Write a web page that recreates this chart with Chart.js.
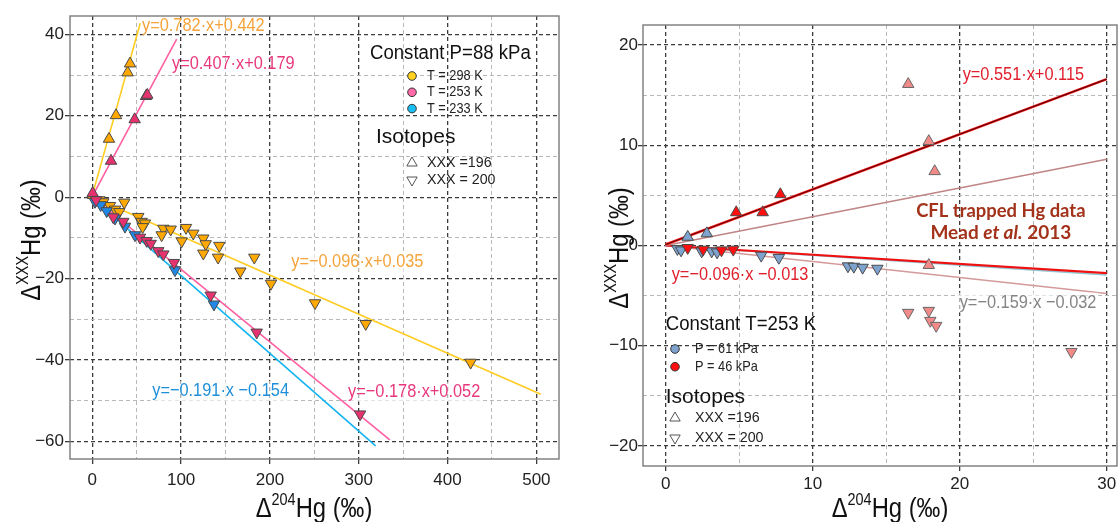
<!DOCTYPE html>
<html>
<head>
<meta charset="utf-8">
<script src="https://cdn.jsdelivr.net/npm/chart.js@4"></script>
<style>
  html, body { margin: 0; padding: 0; background: #fff; }
  #wrap { position: relative; width: 1118px; height: 522px; overflow: hidden; }
  #left { position: absolute; left: 0; top: 0; width: 570px; height: 522px; }
  #right { position: absolute; left: 575px; top: 0; width: 543px; height: 522px; }
</style>
</head>
<body>
<div id="wrap">
  <div id="left"><canvas id="c1"></canvas></div>
  <div id="right"><canvas id="c2"></canvas></div>
</div>
<script>
// ---- left panel: constant P = 88 kPa ----
const leftXMajor = [0, 100, 200, 300, 400, 500];
const leftXMinor = [50, 150, 250, 350, 450];
const leftYMajor = [-60, -40, -20, 0, 20, 40];
const leftYMinor = [-50, -30, -10, 10, 30];

const k298Up = [[1, 0.5], [18.8, 14.3], [26.7, 20.1], [39.8, 30.6], [42.5, 32.8]];
const k298Down = [[7.9, -0.7], [12.4, -1.2], [19.9, -2.1], [25.6, -3.0], [30.4, -3.6], [36, -1.3],
  [51.8, -4.8], [55.6, -6.0], [59.3, -6.4], [56.7, -7.3], [80, -7.7], [88.3, -7.9], [78.1, -9.3],
  [105.5, -7.5], [113.7, -8.9], [100.7, -10.8], [125, -10.1], [127.7, -11.5], [143, -11.9],
  [125, -13.8], [141.6, -14.8], [182.4, -14.8], [166.7, -18.2], [201.2, -21.2], [250.8, -26.0],
  [307.9, -31.1], [426, -40.6]];
const k253Up = [[0.4, 1.0], [21.1, 8.9], [47.7, 19.1], [60.5, 24.8], [61.9, 25.1]];
const k253Down = [[4.2, -0.7], [23.6, -4.9], [34.9, -6.0], [53.7, -9.9], [61.3, -10.7], [65.8, -11.4],
  [74.3, -13.2], [80, -14.0], [92, -16.1], [133.3, -24.1], [185.1, -33.2], [301.5, -53.3]];
const k233Down = [[3, -1.1], [9.4, -1.9], [16.2, -3.4], [25.6, -5.2], [36.8, -7.2], [48.1, -9.3],
  [93.1, -17.9], [137, -26.3]];

// fit lines, end points
const fit298Up = [[0, 0.44], [54, 42.7]];
const fit253Up = [[0, 0.18], [95, 38.8]];
const fit298Down = [[0, 0.04], [505, -48.4]];
const fit253Down = [[0, 0.05], [335, -59.6]];
const fit233Down = [[0, -0.15], [319, -61.1]];

// ---- right panel: constant T = 253 K ----
const rightXMajor = [0, 10, 20, 30];
const rightXMinor = [5, 15, 25];
const rightYMajor = [-20, -10, 0, 10, 20];
const rightYMinor = [-15, -5, 5, 15];

const p61Up = [[1.5, 0.85], [2.8, 1.2]];
const p61Down = [[0.8, -0.33], [1.05, -0.47], [2.45, -0.57], [3.13, -0.57], [3.5, -0.67], [6.5, -1.0],
  [7.7, -1.22], [12.4, -2.06], [12.8, -2.1], [13.4, -2.2], [14.4, -2.3]];
const p46Up = [[4.8, 3.3], [6.6, 3.3], [7.8, 5.1]];
const p46Down = [[1.5, -0.23], [2.55, -0.4], [3.8, -0.47], [4.6, -0.4]];
const meadUp = [[16.5, 16.1], [17.9, 10.4], [18.3, 7.4], [17.9, -1.96]];
const meadDown = [[16.5, -6.7], [17.9, -6.5], [18.0, -7.5], [18.4, -8.0], [27.6, -10.6]];

const fit46Up = [[0, 0.1], [30, 16.6]];
const fitMeadUp = [[0, 0], [30, 8.6]];
const fit46Down = [[0, 0], [30, -2.75]];
const fit61Down = [[0, 0], [30, -2.95]];
const fitMeadDown = [[0, 0], [30, -4.8]];

const SANS = "'Liberation Sans', Arial, sans-serif";
const MAJOR = '#3c3c3c';
const MINOR = '#b8b8b8';

const pts = arr => arr.map(([x, y]) => ({ x, y }));

function marks(data, fill, down, border) {
  return {
    data: pts(data), showLine: false, pointStyle: 'triangle', pointRotation: down ? 180 : 0,
    pointRadius: 6.6, pointBackgroundColor: fill, pointBorderColor: border || '#4a4a4a',
    pointBorderWidth: 1, order: 0
  };
}
function fit(data, color, width) {
  return { data: pts(data), showLine: true, pointRadius: 0, borderColor: color, borderWidth: width || 1.6, fill: false, order: 1 };
}

function axis(major, minor, min, max, size, isX, pad) {
  return {
    type: 'linear', min: min, max: max,
    afterBuildTicks: s => { s.ticks = major.concat(minor).sort((a, b) => a - b).map(v => ({ value: v })); },
    afterFit: s => {
      if (isX) { s.height = size; s.paddingLeft = 0; s.paddingRight = 0; }
      else { s.width = size; s.paddingTop = 0; s.paddingBottom = 0; }
    },
    border: { display: false, dash: [4, 3] },
    grid: {
      color: c => major.includes(c.tick && c.tick.value) ? MAJOR : MINOR,
      lineWidth: c => major.includes(c.tick && c.tick.value) ? 1.3 : 1,
      tickColor: c => major.includes(c.tick && c.tick.value) ? MAJOR : 'rgba(0,0,0,0)',
      tickLength: 5, drawTicks: true
    },
    ticks: {
      autoSkip: false, maxRotation: 0, padding: pad, color: '#222',
      font: { family: SANS, size: 17 },
      callback: v => major.includes(v) ? (v < 0 ? '\u2212' + Math.abs(v) : String(v)) : ''
    }
  };
}

// text squeezed horizontally (the original uses a condensed face)
function condText(ctx, text, x, y, sx, align) {
  const w = ctx.measureText(text).width * sx;
  ctx.save();
  ctx.translate(align === 'center' ? x - w / 2 : x, y);
  ctx.scale(sx, 1);
  ctx.textAlign = 'left';
  ctx.fillText(text, 0, 0);
  ctx.restore();
  return w;
}

function supLabel(ctx, x, y, sup, angle, size) {
  const sx = 0.85;
  const big = size + 'px ' + SANS, small = Math.round(size * 0.62) + 'px ' + SANS;
  ctx.save();
  ctx.translate(x, y); ctx.rotate(angle); ctx.scale(sx, 1);
  ctx.fillStyle = '#111'; ctx.textBaseline = 'alphabetic'; ctx.textAlign = 'left';
  ctx.font = big; const w1 = ctx.measureText('\u0394').width; const w3 = ctx.measureText('Hg (\u2030)').width;
  ctx.font = small; const w2 = ctx.measureText(sup).width;
  let cx = -(w1 + w2 + w3) / 2;
  ctx.font = big; ctx.fillText('\u0394', cx, 0); cx += w1;
  ctx.font = small; ctx.fillText(sup, cx, -size * 0.42); cx += w2;
  ctx.font = big; ctx.fillText('Hg (\u2030)', cx, 0);
  ctx.restore();
}

// equation labels placed in data units
function eqLabels(chart, list) {
  const { ctx, scales } = chart;
  ctx.save();
  list.forEach(l => {
    ctx.font = l.font || ('19px ' + SANS);
    ctx.textBaseline = 'middle';
    const sx = l.sx || 0.86;
    const px = scales.x.getPixelForValue(l.x), py = scales.y.getPixelForValue(l.y);
    if (l.bg) {
      const w = ctx.measureText(l.text).width * sx;
      const x0 = l.align === 'center' ? px - w / 2 : px;
      ctx.fillStyle = 'rgba(255,255,255,0.6)';
      ctx.fillRect(x0 - 2, py - 10, w + 4, 20);
    }
    ctx.fillStyle = l.color;
    condText(ctx, l.text, px, py, sx, l.align);
  });
  ctx.restore();
}

function tri(ctx, x, y, r, down, fill, stroke) {
  const s = down ? -1 : 1;
  ctx.beginPath();
  ctx.moveTo(x, y - s * r);
  ctx.lineTo(x + r * 0.866, y + s * r * 0.5);
  ctx.lineTo(x - r * 0.866, y + s * r * 0.5);
  ctx.closePath();
  if (fill) { ctx.fillStyle = fill; ctx.fill(); }
  ctx.strokeStyle = stroke; ctx.lineWidth = 1; ctx.stroke();
}

function legend(ctx, o) {
  ctx.save();
  ctx.textBaseline = 'middle'; ctx.fillStyle = '#111';
  ctx.font = '20px ' + SANS;
  condText(ctx, o.title, o.tx, o.ty, 0.93);
  ctx.font = '15px ' + SANS;
  o.items.forEach((it, i) => {
    const y = o.iy + i * o.step;
    ctx.beginPath(); ctx.arc(o.mx, y, 4.3, 0, Math.PI * 2);
    ctx.fillStyle = it.color; ctx.fill();
    ctx.strokeStyle = '#333'; ctx.lineWidth = 1; ctx.stroke();
    ctx.fillStyle = '#222';
    condText(ctx, it.text, o.lx, y, 0.85);
  });
  ctx.font = '21px ' + SANS; ctx.fillStyle = '#111';
  ctx.fillText('Isotopes', o.ix, o.iy2);
  ctx.font = '15px ' + SANS; ctx.fillStyle = '#222';
  tri(ctx, o.mx, o.sy, 6, false, null, '#555');
  condText(ctx, 'XXX =196', o.lx, o.sy, 0.95);
  tri(ctx, o.mx, o.sy + o.sstep, 6, true, null, '#555');
  condText(ctx, 'XXX = 200', o.lx, o.sy + o.sstep, 0.95);
  ctx.restore();
}

function frame(chart) {
  const { ctx, chartArea: a } = chart;
  ctx.save();
  ctx.strokeStyle = '#7a7a7a'; ctx.lineWidth = 1.4;
  ctx.strokeRect(a.left, a.top, a.right - a.left, a.bottom - a.top);
  ctx.restore();
}

const leftDeco = {
  id: 'leftDeco',
  afterDraw(chart) {
    frame(chart);
    eqLabels(chart, [
      { text: 'y=0.782\u00b7x+0.442', x: 56, y: 42.1, color: '#f5a33a' },
      { text: 'y=0.407\u00b7x+0.179', x: 89.7, y: 32.7, color: '#e8377c' },
      { text: 'y=\u22120.096\u00b7x+0.035', x: 224, y: -15.9, color: '#f5a33a', bg: true },
      { text: 'y=\u22120.191\u00b7x \u22120.154', x: 67.5, y: -47.6, color: '#1e8fd8', bg: true },
      { text: 'y=\u22120.178\u00b7x+0.052', x: 288, y: -47.8, color: '#e8377c', bg: true }
    ]);
    const ctx = chart.ctx;
    legend(ctx, {
      title: 'Constant P=88 kPa', tx: 370, ty: 53,
      mx: 412, lx: 427, iy: 76, step: 16.3,
      items: [{ color: '#ffd21f', text: 'T = 298 K' }, { color: '#ff6aa8', text: 'T = 253 K' }, { color: '#19bff2', text: 'T = 233 K' }],
      ix: 376, iy2: 137, sy: 163, sstep: 17
    });
    supLabel(ctx, 314, 517, '204', 0, 28);
    supLabel(ctx, 40, 240, 'XXX', -Math.PI / 2, 28);
  }
};

const rightDeco = {
  id: 'rightDeco',
  afterDraw(chart) {
    frame(chart);
    eqLabels(chart, [
      { text: 'y=0.551\u00b7x+0.115', x: 20.2, y: 17.0, color: '#e0202c' },
      { text: 'y=\u22120.096\u00b7x \u22120.013', x: 0.41, y: -2.9, color: '#e0202c', bg: true },
      { text: 'y=\u22120.159\u00b7x \u22120.032', x: 20.0, y: -5.7, color: '#858585', bg: true },
      { text: 'CFL trapped Hg data', x: 22.8, y: 3.5, color: '#a3321a', align: 'center', sx: 0.97, font: "bold 19px Lato, 'Open Sans', sans-serif" }
    ]);
    const ctx = chart.ctx;
    // "Mead et al. 2013" with italic et al.
    const px = chart.scales.x.getPixelForValue(22.8), py = chart.scales.y.getPixelForValue(1.23);
    ctx.save();
    ctx.textBaseline = 'middle'; ctx.textAlign = 'left'; ctx.fillStyle = '#a3321a';
    const f1 = "bold 19px Lato, 'Open Sans', sans-serif", f2 = "italic bold 19px Lato, 'Open Sans', sans-serif";
    const parts = [['Mead ', f1], ['et al.', f2], [' 2013', f1]];
    let tw = 0;
    parts.forEach(p => { ctx.font = p[1]; tw += ctx.measureText(p[0]).width; });
    let cx = px - tw / 2;
    parts.forEach(p => { ctx.font = p[1]; ctx.fillText(p[0], cx, py); cx += ctx.measureText(p[0]).width; });
    ctx.restore();
    legend(ctx, {
      title: 'Constant T=253 K', tx: 90.7, ty: 324,
      mx: 100, lx: 120, iy: 349, step: 17.7,
      items: [{ color: '#7fa3cf', text: 'P = 61 kPa' }, { color: '#ff1010', text: 'P = 46 kPa' }],
      ix: 90.7, iy2: 397, sy: 418, sstep: 20
    });
    supLabel(ctx, 315, 517, '204', 0, 28);
    supLabel(ctx, 53, 248, 'XXX', -Math.PI / 2, 28);
  }
};

new Chart(document.getElementById('c1'), {
  type: 'scatter',
  data: {
    datasets: [
      marks(k253Up, '#e6326e'),
      marks(k253Down, '#e6326e', true),
      marks(k298Up, '#ffa800'),
      marks(k233Down, '#2288e8', true),
      marks(k298Down, '#ffa800', true),
      fit(fit298Up, '#ffcc22'),
      fit(fit253Up, '#ff5fa0'),
      fit(fit298Down, '#ffcc22'),
      fit(fit253Down, '#ff5fa0'),
      fit(fit233Down, '#12b4f0')
    ]
  },
  options: {
    responsive: true, maintainAspectRatio: false, animation: false,
    layout: { autoPadding: false, padding: { top: 16, right: 11, left: 0, bottom: 0 } },
    plugins: { legend: { display: false }, tooltip: { enabled: false } },
    scales: {
      x: axis(leftXMajor, leftXMinor, -25.1, 525.5, 63, true, 6),
      y: axis(leftYMajor, leftYMinor, -64.3, 44.5, 70, false, 1)
    }
  },
  plugins: [leftDeco]
});

new Chart(document.getElementById('c2'), {
  type: 'scatter',
  data: {
    datasets: [
      marks(p46Up, '#ff1010', false),
      marks(p46Down, '#ff1010', true),
      marks(p61Up, '#7fa3cf', false),
      marks(p61Down, '#7fa3cf', true),
      marks(meadUp, '#f28a8a', false, '#666'),
      marks(meadDown, '#f28a8a', true, '#666'),
      fit(fit46Up, '#6b0000', 1.3),
      fit(fit46Up, '#ff2020', 2.6),
      fit(fitMeadUp, '#c08585', 1.5),
      fit(fit46Down, '#ee1111', 2.2),
      fit(fit61Down, '#8fc8d6', 1.5),
      fit(fitMeadDown, '#d49a9a', 1.5)
    ]
  },
  options: {
    responsive: true, maintainAspectRatio: false, animation: false,
    layout: { autoPadding: false, padding: { top: 25, right: 1, left: 0, bottom: 0 } },
    plugins: { legend: { display: false }, tooltip: { enabled: false } },
    scales: {
      x: axis(rightXMajor, rightXMinor, -1.54, 30.7, 56, true, 3),
      y: axis(rightYMajor, rightYMinor, -22, 22, 68, false, 0)
    }
  },
  plugins: [rightDeco]
});
</script>
</body>
</html>
